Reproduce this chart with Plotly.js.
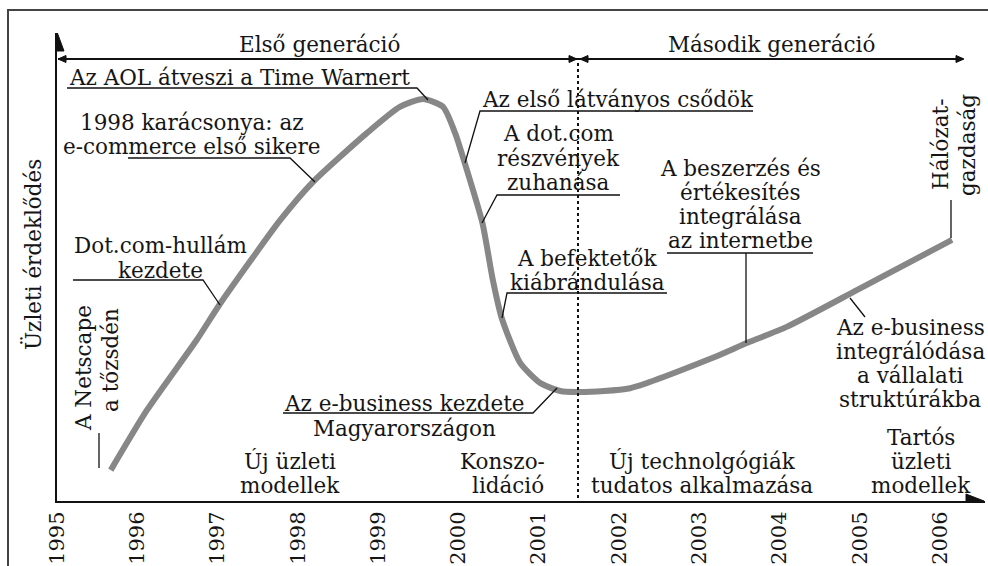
<!DOCTYPE html>
<html>
<head>
<meta charset="utf-8">
<script src="https://cdn.plot.ly/plotly-3.0.1.min.js"></script>
<style>html,body{margin:0;padding:0;background:#fff;}#chart{width:988px;height:566px;}</style>
</head>
<body>
<div id="chart"></div>
<script>
// ---- data ----
const years = [1995.67, 1996.12, 1996.74, 1997.03, 1997.78, 1998.19, 1998.86, 1999.27, 1999.56, 1999.81,
               1999.96, 2000.08, 2000.30, 2000.43, 2000.54, 2000.77, 2001.02, 2001.27, 2001.52, 2002.14,
               2003.17, 2003.60, 2004.09, 2004.97, 2006.15];
const interest = [6.6, 19.4, 34.4, 42.1, 60.0, 68.2, 78.6, 84.2, 85.9, 84.2,
                  78.6, 72.2, 59.4, 47.2, 39.1, 29.5, 25.2, 23.5, 23.3, 24.1,
                  30.6, 33.8, 37.2, 45.1, 55.8];
const tickYears = [1995, 1996, 1997, 1998, 1999, 2000, 2001, 2002, 2003, 2004, 2005, 2006];
const tickLabels = tickYears.map(String);
const generations = ["Első generáció", "Második generáció"];
const phases = [["Új üzleti", "modellek"], ["Konszo-", "lidáció"], ["Új technolgógiák", "tudatos alkalmazása"], ["Tartós", "üzleti", "modellek"]];
const yTitle = "Üzleti érdeklődés";

// ---- geometry helpers (pixel -> data) ----
const L = 57, R = 985, T = 33, B = 501, PPY = 80.27;
const X0 = 1995, X1 = X0 + (R - L) / PPY;
const YMAX = 100, PPV = (B - T) / YMAX;
const PX = p => X0 + (p - L) / PPY;
const PY = p => (B - p) / PPV;

const FAMILY = "'DejaVu Serif', 'Liberation Serif', serif";
const FONT = {family: FAMILY, size: 21.5, color: "#151515"};
const ann = [];
function txt(text, px, py, opts) {
  ann.push(Object.assign({text: text, x: PX(px), y: PY(py), xref: "x", yref: "y",
    showarrow: false, xanchor: "center", yanchor: "middle", align: "center", font: FONT}, opts || {}));
}
function block(lines, px, pys, opts) {
  lines.forEach((s, i) => txt(s, Array.isArray(px) ? px[i] : px, pys[i], opts));
}
function vblock(lines, pxs, py, opts) {
  lines.forEach((s, i) => txt(s, pxs[i], Array.isArray(py) ? py[i] : py, Object.assign({textangle: -90}, opts || {})));
}
const shapes = [];
function seg(pts, w, color, dash) {
  let d = pts.map((p, i) => (i ? "L" : "M") + PX(p[0]) + "," + PY(p[1])).join(" ");
  shapes.push({type: "path", xref: "x", yref: "y", path: d,
    line: {color: color || "#111", width: w || 1.3, dash: dash || "solid"}});
}
function tri(pts) {
  let d = pts.map((p, i) => (i ? "L" : "M") + PX(p[0]) + "," + PY(p[1])).join(" ") + " Z";
  shapes.push({type: "path", xref: "x", yref: "y", path: d, fillcolor: "#111", line: {color: "#111", width: 1}});
}

// frame
shapes.push({type: "path", xref: "paper", yref: "paper",
  path: "M " + ((8 - L) / (R - L)) + "," + ((B - 580) / (B - T)) + " L " + ((8 - L) / (R - L)) + "," + ((B - 10) / (B - T)) +
        " L " + ((995 - L) / (R - L)) + "," + ((B - 10) / (B - T)),
  line: {color: "#444", width: 2}});

// axis arrows
tri([[50, 51], [64, 51], [57, 32]]);
tri([[966, 494], [966, 508], [984, 501]]);

// generation arrows
seg([[58, 59], [963, 59]], 2);
tri([[58, 59], [66, 55.5], [66, 62.5]]);
tri([[577, 59], [569, 55.5], [569, 62.5]]);
tri([[580, 59], [588, 55.5], [588, 62.5]]);
tri([[964, 59], [956, 55.5], [956, 62.5]]);
// dotted divider
seg([[578, 63], [578, 500]], 2, "#111", "dot");

// leader lines and underlines
seg([[67, 88], [417, 88], [428, 100]]);
seg([[128, 158], [290, 158], [315, 182]]);
seg([[753, 111], [480, 111], [465, 163]]);
seg([[620, 195], [497, 195], [482, 223]]);
seg([[667, 293], [507, 293], [502, 318]]);
seg([[667, 253], [813, 253]]);
seg([[746, 253], [746, 343]]);
seg([[951, 200], [951, 238]]);
seg([[73, 280], [203, 280], [220, 305]]);
seg([[99, 433], [99, 468]]);
seg([[850, 298], [865, 317]]);
seg([[283, 413], [533, 413], [557, 388]]);

// texts
txt(generations[0], 319, 44);
txt(generations[1], 771, 44);
txt("Az AOL átveszi a Time Warnert", 67, 77, {xanchor: "left"});
block(["1998 karácsonya: az", "e-commerce első sikere"], [192, 191], [122, 146]);
txt("Az első látványos csődök", 618, 99);
block(["A dot.com", "részvények", "zuhanása"], 558, [133, 158, 182]);
block(["A befektetők", "kiábrándulása"], 587, [258, 282]);
block(["A beszerzés és", "értékesítés", "integrálása", "az internetbe"], 740, [168, 192, 216, 240]);
vblock(["Hálózat-", "gazdaság"], [940, 967], 145);
block(["Dot.com-hullám", "kezdete"], 160, [245, 270]);
vblock(["A Netscape", "a tőzsdén"], [83, 110], [368, 360]);
block(["Az e-business", "integrálódása", "a vállalati", "struktúrákba"], 910, [327, 351, 375, 399]);
block(["Az e-business kezdete", "Magyarországon"], 404, [403, 428]);
block(phases[0], 290, [461, 485]);
block(phases[1], [502, 508], [461, 485]);
block(phases[2], 702, [461, 485]);
block(phases[3], 921, [437, 461, 485]);
txt(yTitle, 33, 255, {textangle: -90, xref: "paper", x: (33 - L) / (R - L)});

const trace = {
  x: years, y: interest, type: "scatter", mode: "lines",
  line: {color: "#878787", width: 6, shape: "spline", smoothing: 0.6},
  hoverinfo: "skip", cliponaxis: false
};

const layout = {
  width: 988, height: 566,
  margin: {l: L, r: 988 - R, t: T, b: 566 - B, pad: 0},
  paper_bgcolor: "#fff", plot_bgcolor: "#fff",
  showlegend: false,
  font: FONT,
  xaxis: {range: [X0, X1], showgrid: false, zeroline: false, showline: true, linecolor: "#111", linewidth: 2,
          tickmode: "array", tickvals: tickYears, ticktext: tickLabels, tickangle: -90, ticks: "",
          tickfont: {family: FAMILY, size: 21, color: "#151515"}, fixedrange: true},
  yaxis: {range: [0, YMAX], showgrid: false, zeroline: false, showline: true, linecolor: "#111", linewidth: 2,
          showticklabels: false, ticks: "", fixedrange: true},
  shapes: shapes,
  annotations: ann
};

Plotly.newPlot("chart", [trace], layout, {staticPlot: true, displayModeBar: false});
</script>
</body>
</html>
